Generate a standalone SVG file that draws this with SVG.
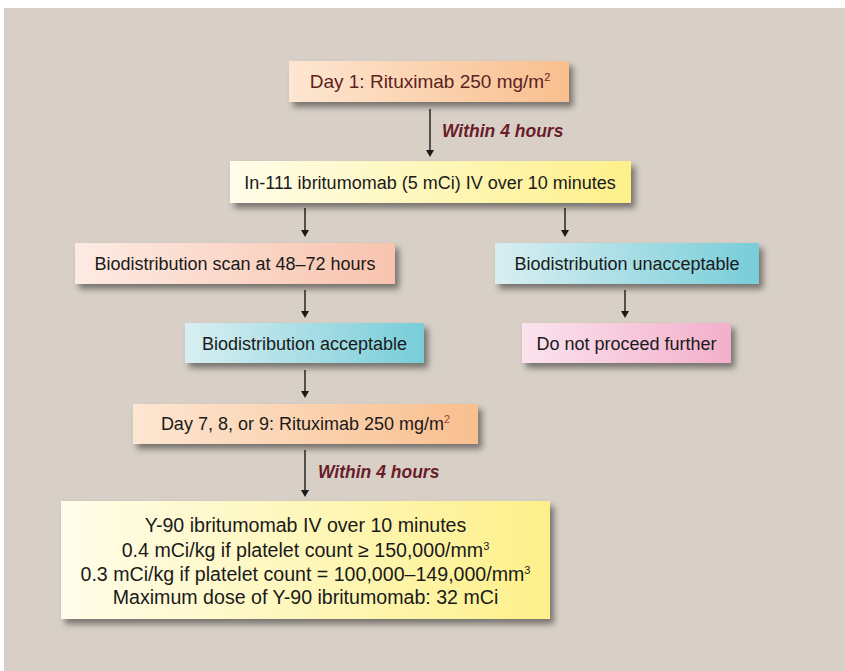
<svg xmlns="http://www.w3.org/2000/svg" width="845" height="671" viewBox="0 0 845 671">
<style>
.t{font-family:"Liberation Sans",Arial,sans-serif;font-size:18px;fill:#1a1a1a;text-anchor:middle}
.b{font-size:19.6px}
.lbl{font-family:"Liberation Sans",Arial,sans-serif;font-size:17.5px;font-weight:bold;font-style:italic;fill:#6a1c28}
.c{stroke:#1a1a1a;stroke-width:1.4;fill:none}
.ah{fill:#1a1a1a}
</style>
<defs>
<filter id="sh" x="-10%" y="-20%" width="125%" height="160%">
<feDropShadow dx="4" dy="5" stdDeviation="3" flood-color="#000" flood-opacity="0.45"/>
</filter>
<linearGradient id="gPeach" x1="0" x2="1" y1="0" y2="0"><stop offset="0" stop-color="#fde6d2"/><stop offset="1" stop-color="#f9bf8e"/></linearGradient>
<linearGradient id="gYellow" x1="0" x2="1" y1="0" y2="0"><stop offset="0" stop-color="#fffdea"/><stop offset="1" stop-color="#fdf08a"/></linearGradient>
<linearGradient id="gSalmon" x1="0" x2="1" y1="0" y2="0"><stop offset="0" stop-color="#fdebe3"/><stop offset="1" stop-color="#f8c3ae"/></linearGradient>
<linearGradient id="gTeal" x1="0" x2="1" y1="0" y2="0"><stop offset="0" stop-color="#d8eff2"/><stop offset="1" stop-color="#78cdd9"/></linearGradient>
<linearGradient id="gPink" x1="0" x2="1" y1="0" y2="0"><stop offset="0" stop-color="#fbe3ee"/><stop offset="1" stop-color="#f3afcb"/></linearGradient>
</defs>
<rect x="0" y="0" width="845" height="671" fill="#ffffff"/>
<rect x="4" y="8" width="841" height="663" fill="#d8d0c7"/>

<g id="connectors">
<path class="c" d="M430,109 V152"/>
<path class="ah" d="M426,150 L434,150 L430,157 Z"/>
<text class="lbl" x="442" y="137">Within 4 hours</text>
<path class="c" d="M305,208 V232"/>
<path class="ah" d="M301,230 L309,230 L305,237 Z"/>
<path class="c" d="M565,208 V232"/>
<path class="ah" d="M561,230 L569,230 L565,237 Z"/>
<path class="c" d="M305,290 V313"/>
<path class="ah" d="M301,311 L309,311 L305,318 Z"/>
<path class="c" d="M625,290 V313"/>
<path class="ah" d="M621,311 L629,311 L625,318 Z"/>
<path class="c" d="M305,370 V393"/>
<path class="ah" d="M301,391 L309,391 L305,398 Z"/>
<path class="c" d="M305,450 V492"/>
<path class="ah" d="M301,490 L309,490 L305,497 Z"/>
<text class="lbl" x="318" y="478">Within 4 hours</text>
</g>

<g id="n1">
<rect x="289" y="61" width="280" height="41" fill="url(#gPeach)" filter="url(#sh)"/>
<text class="t" x="430" y="88" style="fill:#5c1f22;font-size:19px">Day 1: Rituximab 250 mg/m<tspan dy="-7" font-size="11">2</tspan></text>
</g>
<g id="n2">
<rect x="230" y="161" width="401" height="42" fill="url(#gYellow)" filter="url(#sh)"/>
<text class="t" x="430" y="189">In-111 ibritumomab (5 mCi) IV over 10 minutes</text>
</g>
<g id="n3">
<rect x="75" y="243" width="320" height="41" fill="url(#gSalmon)" filter="url(#sh)"/>
<text class="t" x="235" y="270">Biodistribution scan at 48–72 hours</text>
</g>
<g id="n4">
<rect x="495" y="243" width="264" height="41" fill="url(#gTeal)" filter="url(#sh)"/>
<text class="t" x="627" y="270">Biodistribution unacceptable</text>
</g>
<g id="n5">
<rect x="185" y="323" width="239" height="40" fill="url(#gTeal)" filter="url(#sh)"/>
<text class="t" x="304.5" y="350">Biodistribution acceptable</text>
</g>
<g id="n6">
<rect x="522" y="323" width="209" height="40" fill="url(#gPink)" filter="url(#sh)"/>
<text class="t" x="626.5" y="350">Do not proceed further</text>
</g>
<g id="n7">
<rect x="133" y="404" width="345" height="40" fill="url(#gPeach)" filter="url(#sh)"/>
<text class="t" x="305.5" y="430">Day 7, 8, or 9: Rituximab 250 mg/m<tspan dy="-7" font-size="11" fill="#b0403a">2</tspan></text>
</g>
<g id="n8">
<rect x="61" y="501" width="489" height="118" fill="url(#gYellow)" filter="url(#sh)"/>
<text class="t b" x="305.5" y="532">Y-90 ibritumomab IV over 10 minutes</text>
<text class="t b" x="305.5" y="557">0.4 mCi/kg if platelet count ≥ 150,000/mm<tspan dy="-7" font-size="11">3</tspan></text>
<text class="t b" x="305.5" y="581">0.3 mCi/kg if platelet count = 100,000–149,000/mm<tspan dy="-7" font-size="11">3</tspan></text>
<text class="t b" x="305.5" y="604">Maximum dose of Y-90 ibritumomab: 32 mCi</text>
</g>
</svg>
